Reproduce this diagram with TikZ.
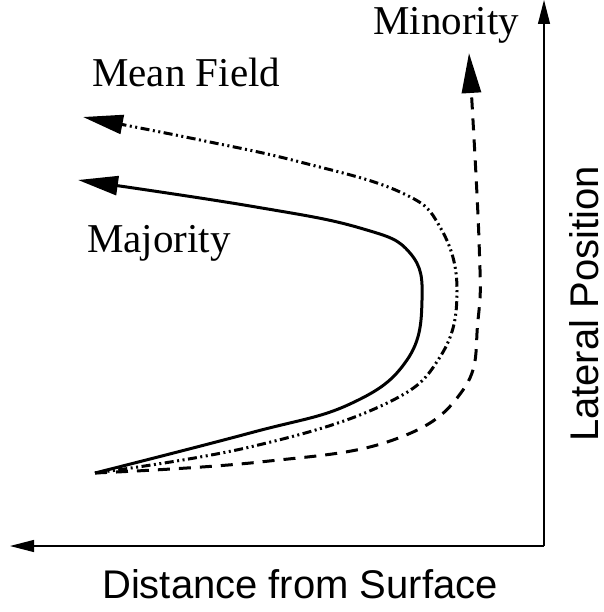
\documentclass[tikz,border=0pt]{standalone}
\usepackage{fontspec}
\setmainfont{Liberation Serif}
\setsansfont{Liberation Sans}
\usetikzlibrary{arrows.meta}

\tikzset{
  axis/.style={line width=1.2pt, -{Triangle[length=24pt,width=12pt]}},
  curve/.style={line width=3pt, -{Triangle[length=40pt,width=19pt]}},
  dashdotdot/.style={dash pattern=on 9pt off 3.5pt on 2pt off 3.5pt on 2pt off 3.5pt},
  lbl/.style={inner sep=0pt, anchor=base west, font=\fontsize{41}{41}\selectfont},
  axlbl/.style={inner sep=0pt, text depth=0pt, anchor=base, font=\sffamily\fontsize{40}{40}\selectfont},
}

\begin{document}
\begin{tikzpicture}[x=1pt,y=-1pt]
    \useasboundingbox (0,0) rectangle (603,612);

    % Axes
    \coordinate (corner) at (544,546);
    \coordinate (ytip) at (544,0);
    \coordinate (xtip) at (10,546);
    \draw[axis] (corner) -- (ytip);
    \draw[axis] (corner) -- (xtip);
    \node[axlbl] (xlabel) at (300,598) {Distance from Surface};
    \node[axlbl, rotate=90] (ylabel) at (598,304) {Lateral Position};

    % Common start and arrow ends
    \coordinate (origin) at (95,473);
    \coordinate (majtip) at (78,180);
    \coordinate (meantip) at (83,117);
    \coordinate (mintip) at (469,53);

    % Majority (solid)
    \draw[curve] plot[smooth, tension=0.7] coordinates {(origin) (250,433) (350,404) (407,360) (422,300) (410,253) (360,228) (250,206) (majtip)};

    % Mean field (dash-dot-dot)
    \draw[curve, dashdotdot] plot[smooth, tension=0.7] coordinates {(origin) (250,447) (383,405) (440,357) (457,290) (440,227) (400,192) (300,162) (200,140) (meantip)};

    % Minority (dashed)
    \draw[curve, dash pattern=on 12pt off 9pt] plot[smooth, tension=0.7] coordinates {(origin) (260,462) (393,440) (463,390) (478,320) (479,240) (mintip)};

    % Labels
    \node[lbl] (minority) at (373,35) {Minority};
    \node[lbl] (meanfield) at (92,87) {Mean Field};
    \node[lbl] (majority) at (87,252) {Majority};
\end{tikzpicture}
\end{document}
